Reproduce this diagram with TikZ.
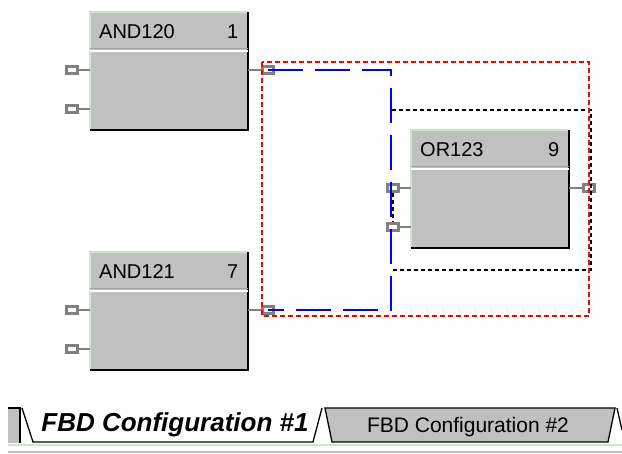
\documentclass[tikz,border=0pt]{standalone}
\usepackage{fontspec}
\setmainfont{Liberation Sans}
\usetikzlibrary{positioning}
\usetikzlibrary{calc}
\definecolor{blockgrey}{RGB}{192,192,192}
\definecolor{pingrey}{RGB}{128,128,128}
\definecolor{edgegreen}{RGB}{206,230,206}
\definecolor{sepgrey}{RGB}{160,160,160}
\definecolor{wireblue}{RGB}{0,0,255}
\definecolor{selred}{RGB}{255,0,0}

\begin{document}
\begin{tikzpicture}[x=1pt, y=-1pt,
    every node/.style={font=\fontsize{20}{20}\selectfont, inner sep=0pt},
    fbdblock/.style={fill=blockgrey, minimum width=158pt, minimum height=118pt, anchor=north west},
    lightedge/.style={edgegreen, line width=1.5pt},
    shadowedge/.style={black, line width=2pt},
    sepdark/.style={sepgrey, line width=1pt},
    seplight/.style={white, line width=1.5pt},
    pinbox/.style={draw=pingrey, fill=white, line width=3pt, minimum width=11pt, minimum height=7pt},
    pinline/.style={pingrey, line width=2.2pt},
    bluewire/.style={wireblue, line width=1.8pt, dash pattern=on 35pt off 12pt},
    blackwire/.style={black, line width=1.5pt, dash pattern=on 4pt off 3pt},
    redsel/.style={selred, line width=1.5pt, dash pattern=on 5pt off 3pt},
    tabline/.style={draw=black, line width=1.3pt}]
    \useasboundingbox (0,0) rectangle (622,454);

    \foreach \name/\lbl/\num/\x/\y in {a120/AND120/1/90/12, a121/AND121/7/90/252, o123/OR123/9/411/130} {
        \node[fbdblock] (\name) at (\x,\y) {};
        \draw[lightedge] (\name.south west) |- (\name.north east);
        \draw[shadowedge] (\name.north east) |- (\name.south west);
        \draw[sepdark] ([shift={(0,37)}]\name.north west) -- ([shift={(0,37)}]\name.north east);
        \draw[seplight] ([shift={(0,39)}]\name.north west) -- ([shift={(0,39)}]\name.north east);
        \node[anchor=west] (\name title) at ([shift={(9,20)}]\name.north west) {\lbl};
        \node[anchor=east] (\name num) at ([shift={(-10,20)}]\name.north east) {\num};
        \node[pinbox] (\name in1) at ([shift={(-18,58)}]\name.north west) {};
        \node[pinbox] (\name in2) at ([shift={(-18,97)}]\name.north west) {};
        \node[pinbox] (\name out) at ([shift={(20,58)}]\name.north east) {};
        \draw[pinline] (\name in1.east) -- (\name in1 -| \name.west);
        \draw[pinline] (\name in2.east) -- (\name in2 -| \name.west);
        \draw[pinline] (\name out.west) -- (\name out -| \name.east);
    }

    \coordinate (bend) at (391,0);
    \draw[bluewire] (a120out.center) -- (a120out -| bend) -- (a121out -| bend) -- (a121out.center);

    \coordinate (loopa) at (392,110);
    \coordinate (loopb) at (591,270);
    \draw[blackwire] (loopa) -- (loopa -| loopb) -- (loopb) -- (loopb -| loopa);
    \draw[blackwire] (o123in1) -- (o123in2);

    \draw[redsel] (262,62) rectangle (589,316);

    \fill[blockgrey] (8,408) rectangle (20,443);
    \draw[tabline] (8,408) -- (20,408) -- (20,443);
    \fill[white] (22,408) -- (33,442) -- (313,442) -- (322,408) -- cycle;
    \draw[tabline] (22,408) -- (33,442) -- (313,442) -- (322,408);
    \filldraw[tabline, fill=blockgrey] (325,408) -- (332,442) -- (608,442) -- (615,408) -- cycle;
    \draw[tabline] (617,408) -- (622,430);
    \node (tabone) at (175,425) {\fontsize{26}{26}\selectfont\bfseries\itshape FBD Configuration \#1};
    \node (tabtwo) at (468,427) {\fontsize{21}{21}\selectfont FBD Configuration \#2};
    \draw[edgegreen, line width=2pt] (8,445) -- (622,445);
    \draw[blockgrey, line width=1.5pt] (8,452) -- (622,452);
\end{tikzpicture}
\end{document}
